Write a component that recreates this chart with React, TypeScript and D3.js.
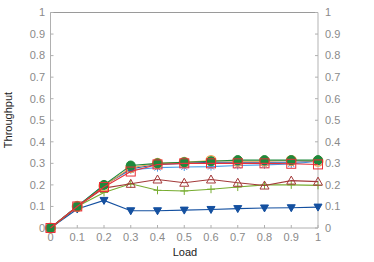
import React from "react";
import * as d3 from "d3";

const loads = [0, 0.1, 0.2, 0.3, 0.4, 0.5, 0.6, 0.7, 0.8, 0.9, 1];
const yTicks = [0, 0.1, 0.2, 0.3, 0.4, 0.5, 0.6, 0.7, 0.8, 0.9, 1];

const sBlueTri = [0, 0.088, 0.128, 0.08, 0.08, 0.083, 0.086, 0.09, 0.093, 0.094, 0.097];
const sGreenPlus = [0, 0.1, 0.165, 0.205, 0.175, 0.172, 0.18, 0.19, 0.2, 0.2, 0.198];
const sBrownTri = [0, 0.1, 0.185, 0.205, 0.225, 0.21, 0.225, 0.21, 0.197, 0.22, 0.215];
const sCyanStar = [0, 0.1, 0.2, 0.27, 0.28, 0.283, 0.285, 0.29, 0.293, 0.297, 0.31];
const sNavyDot = [0, 0.1, 0.198, 0.275, 0.295, 0.3, 0.305, 0.305, 0.305, 0.305, 0.31];
const sOrangeCirc = [0, 0.1, 0.195, 0.28, 0.3, 0.305, 0.313, 0.31, 0.31, 0.313, 0.31];
const sGreenDot = [0, 0.1, 0.2, 0.29, 0.3, 0.305, 0.31, 0.315, 0.315, 0.315, 0.315];
const sRedSq = [0, 0.1, 0.19, 0.262, 0.295, 0.3, 0.3, 0.3, 0.3, 0.298, 0.295];

type Series = { values: number[]; color: string; marker: string };
const series: Series[] = [
  { values: sBlueTri, color: "#1450a0", marker: "tridown" },
  { values: sGreenPlus, color: "#77ac30", marker: "plus" },
  { values: sBrownTri, color: "#a33a3a", marker: "triup" },
  { values: sCyanStar, color: "#4a9ee8", marker: "star" },
  { values: sNavyDot, color: "#1f5fae", marker: "dot" },
  { values: sOrangeCirc, color: "#f0a050", marker: "circle" },
  { values: sGreenDot, color: "#1e8a3c", marker: "dotgreen" },
  { values: sRedSq, color: "#e8303a", marker: "square" },
];

function Marker({ m, x, y, c }: { m: string; x: number; y: number; c: string }) {
  switch (m) {
    case "tridown":
      return <path d={`M${x - 4},${y - 3}L${x + 4},${y - 3}L${x},${y + 4}Z`} fill={c} stroke={c} />;
    case "triup":
      return <path d={`M${x - 4.5},${y + 3.5}L${x + 4.5},${y + 3.5}L${x},${y - 4.5}Z`} fill="none" stroke={c} />;
    case "plus":
      return <path d={`M${x - 4},${y}H${x + 4}M${x},${y - 4}V${y + 4}`} stroke={c} fill="none" />;
    case "star":
      return (
        <path
          d={`M${x - 4},${y}H${x + 4}M${x},${y - 4}V${y + 4}M${x - 3},${y - 3}L${x + 3},${y + 3}M${x - 3},${y + 3}L${x + 3},${y - 3}`}
          stroke={c}
          fill="none"
        />
      );
    case "dot":
      return <circle cx={x} cy={y} r={3.5} fill={c} stroke={c} />;
    case "dotgreen":
      return <circle cx={x} cy={y} r={4.5} fill={c} stroke={c} />;
    case "circle":
      return <circle cx={x} cy={y} r={5} fill="none" stroke={c} strokeWidth={1.2} />;
    case "square":
      return <rect x={x - 4.5} y={y - 4.5} width={9} height={9} fill="none" stroke={c} />;
    default:
      return null;
  }
}

export default function App() {
  const W = 374, H = 262;
  const x = d3.scaleLinear().domain([0, 1]).range([50.5, 318]);
  const y = d3.scaleLinear().domain([0, 1]).range([228, 12.5]);
  const line = d3.line<number>().x((_, i) => x(loads[i])).y((d) => y(d));
  const font = "'Liberation Sans', Arial, sans-serif";
  const tickColor = "#8a8a8a";
  return (
    <svg width={W} height={H} style={{ position: "absolute", left: 0, top: 0 }} fontFamily={font}>
      <rect width={W} height={H} fill="white" />
      {/* frame */}
      <line x1={x(0)} x2={x(1)} y1={y(1)} y2={y(1)} stroke="#9a9a9a" />
      <line x1={x(0)} x2={x(0)} y1={y(0)} y2={y(1)} stroke="#b0b0b0" />
      <line x1={x(1)} x2={x(1)} y1={y(0)} y2={y(1)} stroke="#cccccc" strokeWidth={1.5} />
      <line x1={x(0)} x2={x(1)} y1={y(0)} y2={y(0)} stroke="#b0b0b0" />
      {yTicks.map((t) => (
        <g key={"y" + t}>
          <line x1={x(0)} x2={x(0) + 3} y1={y(t)} y2={y(t)} stroke="#b0b0b0" />
          <line x1={x(1) - 3} x2={x(1)} y1={y(t)} y2={y(t)} stroke="#b0b0b0" />
          <text x={45} y={y(t)} dy="0.35em" textAnchor="end" fontSize={11} fill={tickColor}>
            {String(t)}
          </text>
          <text x={325} y={y(t)} dy="0.35em" textAnchor="start" fontSize={11} fill={tickColor}>
            {String(t)}
          </text>
        </g>
      ))}
      {loads.map((t) => (
        <g key={"x" + t}>
          <line x1={x(t)} x2={x(t)} y1={y(0)} y2={y(0) - 3} stroke="#b0b0b0" />
          <text x={x(t)} y={241} textAnchor="middle" fontSize={11} fill={tickColor}>
            {String(t)}
          </text>
        </g>
      ))}
      <text x={185} y={256} textAnchor="middle" fontSize={11} fill="#222">Load</text>
      <text transform={`translate(12,120) rotate(-90)`} textAnchor="middle" fontSize={11} fill="#222">
        Throughput
      </text>
      {series.map((s, si) => (
        <g key={si}>
          <path d={line(s.values) || ""} fill="none" stroke={s.color} strokeWidth={1.1} />
          {s.values.map((v, i) => (
            <Marker key={i} m={s.marker} x={x(loads[i])} y={y(v)} c={s.color} />
          ))}
        </g>
      ))}
    </svg>
  );
}
